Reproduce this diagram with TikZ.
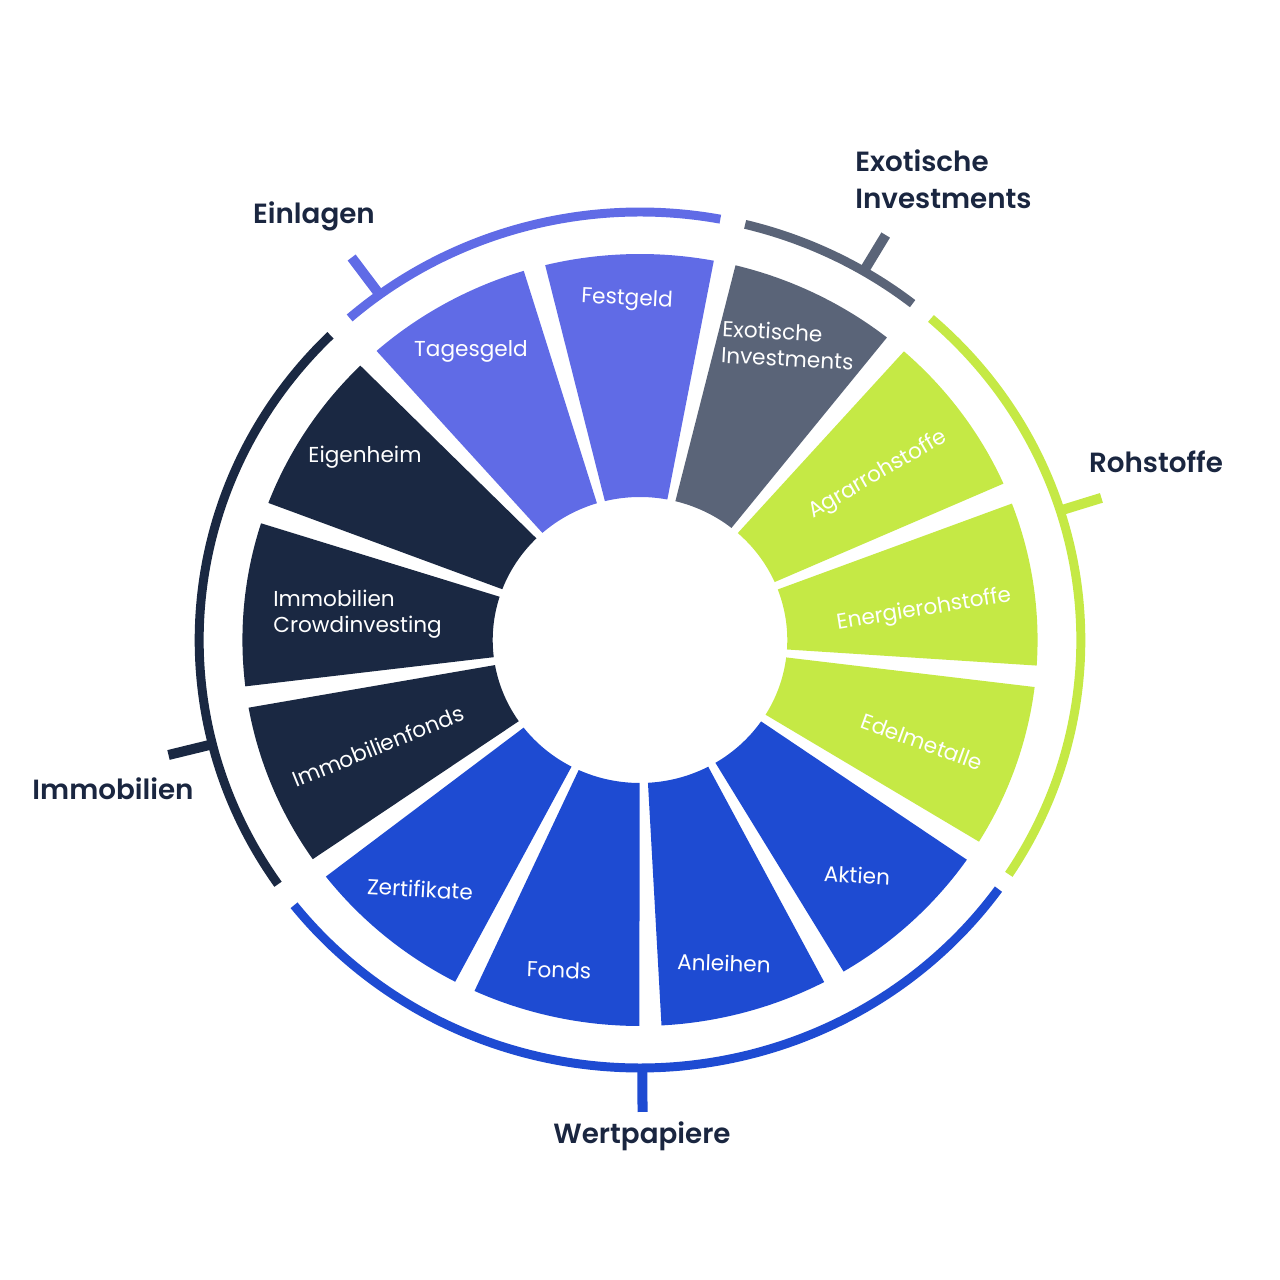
\documentclass[tikz,border=0pt]{standalone}
\usepackage{fontspec}
\setmainfont{Poppins}
\newfontfamily\headfont{Poppins SemiBold}
\definecolor{einlagen}{HTML}{606BE6}
\definecolor{exotisch}{HTML}{5A6478}
\definecolor{rohstoff}{HTML}{C5E945}
\definecolor{wertpapier}{HTML}{1E4BD2}
\definecolor{immo}{HTML}{1A2842}
\definecolor{titel}{HTML}{1A2640}

\begin{document}
\begin{tikzpicture}[x=0.02cm, y=0.02cm,
  seglabel/.style={text=white, font=\fontsize{12.3}{15}\selectfont, align=left, inner sep=0pt},
  grouplabel/.style={text=titel, font=\headfont\fontsize{15.8}{21}\selectfont, align=left, inner sep=0pt},
  ringarc/.style={line width=5.1pt},
  tickline/.style={line width=5.7pt}]
\useasboundingbox (-640,-640) rectangle (640,640);

\begin{scope}[xscale=1.03]
% segments: start angle / colour
\foreach \a/\c in {77.7/einlagen, 105.4/einlagen, 133.1/immo, 160.8/immo, 188.5/immo,
                   216.2/wertpapier, 243.8/wertpapier, 271.5/wertpapier, 299.2/wertpapier,
                   326.9/rohstoff, 354.6/rohstoff, 22.3/rohstoff, 50/exotisch}
  \fill[\c] ({\a+1.6}:143) arc[start angle=\a+1.6, delta angle=24.5, radius=143]
    -- ({\a+26.1}:386) arc[start angle=\a+26.1, delta angle=-24.5, radius=386] -- cycle;

% outer ring per group
\draw[ringarc, einlagen] (79.5:428) arc[start angle=79.5, end angle=131.2, radius=428];
\draw[ringarc, exotisch] (51.8:428) arc[start angle=51.8, end angle=76.2, radius=428];
\draw[ringarc, rohstoff] (-33.2:428) arc[start angle=-33.2, end angle=48.7, radius=428];
\draw[ringarc, wertpapier] (218.3:428) arc[start angle=218.3, end angle=324.4, radius=428];
\draw[ringarc, immo] (134.6:428) arc[start angle=134.6, end angle=214.8, radius=428];

% ticks
\draw[tickline, einlagen] (126.2:426) -- (126.2:474);
\draw[tickline, exotisch] (59.5:426) -- (59.5:470);
\draw[tickline, rohstoff] (17.6:426) -- (17.6:470);
\draw[tickline, wertpapier] (-89.7:426) -- (-89.7:472);
\draw[tickline, immo] (194.1:426) -- (194.1:472);
\end{scope}

% segment labels
\node[seglabel, rotate=-3] (festgeld) at (-13,340) {Festgeld};
\node[seglabel] (tagesgeld) at (-169,289) {Tagesgeld};
\node[seglabel, rotate=-3] (exot) at (148,295) {Exotische\\Investments};
\node[seglabel, rotate=30] (agrar) at (238,165) {Agrarrohstoffe};
\node[seglabel, rotate=9] (energie) at (284,30) {Energierohstoffe};
\node[seglabel, rotate=-20] (edel) at (282,-102) {Edelmetalle};
\node[seglabel, rotate=-3] (aktien) at (217,-235) {Aktien};
\node[seglabel, rotate=-2] (anleihen) at (84,-323) {Anleihen};
\node[seglabel, rotate=-2] (fonds) at (-81,-330) {Fonds};
\node[seglabel, rotate=-3] (zert) at (-220,-249) {Zertifikate};
\node[seglabel, rotate=22] (immofonds) at (-262,-106) {Immobilienfonds};
\node[seglabel, anchor=west] (crowd) at (-367,26) {Immobilien\\Crowdinvesting};
\node[seglabel] (eigenheim) at (-275,183) {Eigenheim};

% group labels
\node[grouplabel] (g-einlagen) at (-326,424) {Einlagen};
\node[grouplabel, anchor=west] (g-exot) at (215,461) {Exotische\\Investments};
\node[grouplabel] (g-roh) at (516,178) {Rohstoffe};
\node[grouplabel] (g-wert) at (2,-496) {Wertpapiere};
\node[grouplabel] (g-immo) at (-527,-149) {Immobilien};
\end{tikzpicture}
\end{document}
